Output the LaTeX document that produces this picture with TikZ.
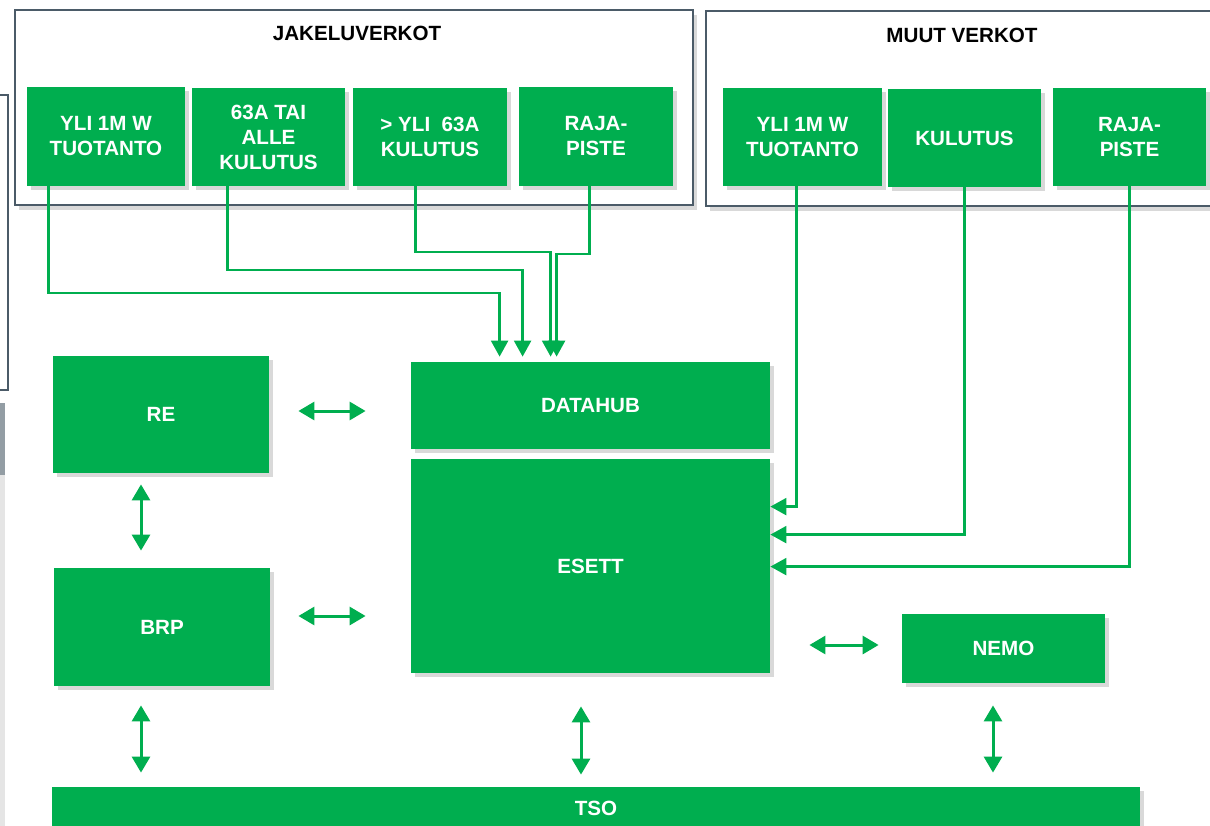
\documentclass[tikz,border=0pt]{standalone}
\usepackage{fontspec}
\setmainfont{Liberation Sans}
\usetikzlibrary{calc, arrows.meta, shadows}
\definecolor{egreen}{HTML}{00AE4F}
\definecolor{framegray}{HTML}{4B5B68}

\begin{document}
\begin{tikzpicture}[x=0.5pt, y=-0.5pt,
  font=\fontsize{10.3}{12.5}\selectfont\bfseries,
  gbox/.style={fill=egreen, text=white, align=center, inner sep=0pt,
    drop shadow={shadow xshift=2pt, shadow yshift=-2pt, opacity=0.3}},
  frame/.style={draw=framegray, line width=1pt, fill=white, inner sep=0pt,
    drop shadow={shadow xshift=2pt, shadow yshift=-2.5pt, opacity=0.3}},
  feed/.style={draw=egreen, line width=1.2pt, -{Triangle[width=8.5pt,length=8pt]}},
  both/.style={draw=egreen, line width=1.5pt,
    {Triangle[width=9pt,length=8pt]}-{Triangle[width=9pt,length=8pt]}}]
\useasboundingbox (0,0) rectangle (1210,825);

% Left edge: pieces of neighbouring frames
\draw[framegray, line width=1pt] (-10,95) rectangle (8,390);
\fill[gray!20] (-10,403) rectangle (5,830);
\fill[framegray!60] (-10,403) rectangle (5,475);

% Frames
\node[frame, minimum width=339pt, minimum height=97.5pt] (jframe) at (354,107.5) {};
\node at (357,33) {JAKELUVERKOT};
\node[frame, minimum width=262pt, minimum height=97.5pt] (mframe) at (968,108.5) {};
\node at (962,35) {MUUT VERKOT};

% Jakeluverkot
\node[gbox, minimum width=79pt, minimum height=49.5pt] (jb1) at (106,136.5) {YLI 1M W\\TUOTANTO};
\node[gbox, minimum width=76.5pt, minimum height=49pt] (jb2) at (268.5,137) {63A TAI\\ALLE\\KULUTUS};
\node[gbox, minimum width=77pt, minimum height=49pt] (jb3) at (430,137) {> YLI\ \ 63A\\KULUTUS};
\node[gbox, minimum width=77pt, minimum height=49.5pt] (jb4) at (596,136.5) {RAJA-\\PISTE};

% Muut verkot
\node[gbox, minimum width=79.5pt, minimum height=49pt] (mb1) at (802.5,137) {YLI 1M W\\TUOTANTO};
\node[gbox, minimum width=76.5pt, minimum height=49pt] (mb2) at (964.5,138) {KULUTUS};
\node[gbox, minimum width=76.5pt, minimum height=49pt] (mb3) at (1129.5,137) {RAJA-\\PISTE};

% Main blocks
\node[gbox, minimum width=108pt, minimum height=58.5pt] (re) at (161,414.5) {RE};
\node[gbox, minimum width=108pt, minimum height=59pt] (brp) at (162,627) {BRP};
\node[gbox, minimum width=179.5pt, minimum height=43.5pt] (datahub) at (590.5,405.5) {DATAHUB};
\node[gbox, minimum width=179.5pt, minimum height=107pt] (esett) at (590.5,566) {ESETT};
\node[gbox, minimum width=101.5pt, minimum height=34.5pt] (nemo) at (1003.5,648.5) {NEMO};
\node[gbox, minimum width=544pt, minimum height=21pt] (tso) at (596,808) {TSO};

% Feeds into DATAHUB
\coordinate (d1) at ($(datahub.north west)+(89,-5)$);
\coordinate (d2) at ($(datahub.north west)+(112,-5)$);
\coordinate (d3) at ($(datahub.north west)+(140,-5)$);
\coordinate (d4) at ($(datahub.north west)+(146,-5)$);
\draw[feed] ([xshift=11pt]jb1.south west) |- (d1 |- 0,293) -- (d1);
\draw[feed] ([xshift=18pt]jb2.south west) |- (d2 |- 0,270) -- (d2);
\draw[feed] ([xshift=31.5pt]jb3.south west) |- (d3 |- 0,252) -- (d3);
\draw[feed] ([xshift=35.5pt]jb4.south west) |- (d4 |- 0,254) -- (d4);

% Feeds into ESETT
\coordinate (e1) at ($(esett.north east)+(0,48)$);
\coordinate (e2) at ($(esett.north east)+(0,76)$);
\coordinate (e3) at ($(esett.north east)+(0,108)$);
\draw[feed] ([xshift=37pt]mb1.south west) |- (e1);
\draw[feed] ([xshift=38.5pt]mb2.south west) |- (e2);
\draw[feed] ([xshift=38.5pt]mb3.south west) |- (e3);

% Two-way links
\draw[both, shorten <=14.5pt, shorten >=22.5pt] ([yshift=1.75pt]re.east) -- ([yshift=1.75pt]re.east -| datahub.west);
\draw[both, shorten <=5.5pt, shorten >=8.5pt] ([xshift=-10pt]re.south) -- ([xshift=-10pt]re.south |- brp.north);
\draw[both, shorten <=14pt, shorten >=22.5pt] ([yshift=5.5pt]brp.east) -- ([yshift=5.5pt]brp.east -| esett.west);
\draw[both, shorten <=19.5pt, shorten >=11.5pt] ([yshift=1.75pt]esett.east |- nemo.west) -- ([yshift=1.75pt]nemo.west);
\draw[both, shorten <=9.5pt, shorten >=7pt] ([xshift=-10.5pt]brp.south) -- ([xshift=-10.5pt]brp.south |- tso.north);
\draw[both, shorten <=16.5pt, shorten >=6pt] ([xshift=-4.75pt]esett.south) -- ([xshift=-4.75pt]esett.south |- tso.north);
\draw[both, shorten <=11pt, shorten >=7pt] ([xshift=-5.25pt]nemo.south) -- ([xshift=-5.25pt]nemo.south |- tso.north);
\end{tikzpicture}
\end{document}
